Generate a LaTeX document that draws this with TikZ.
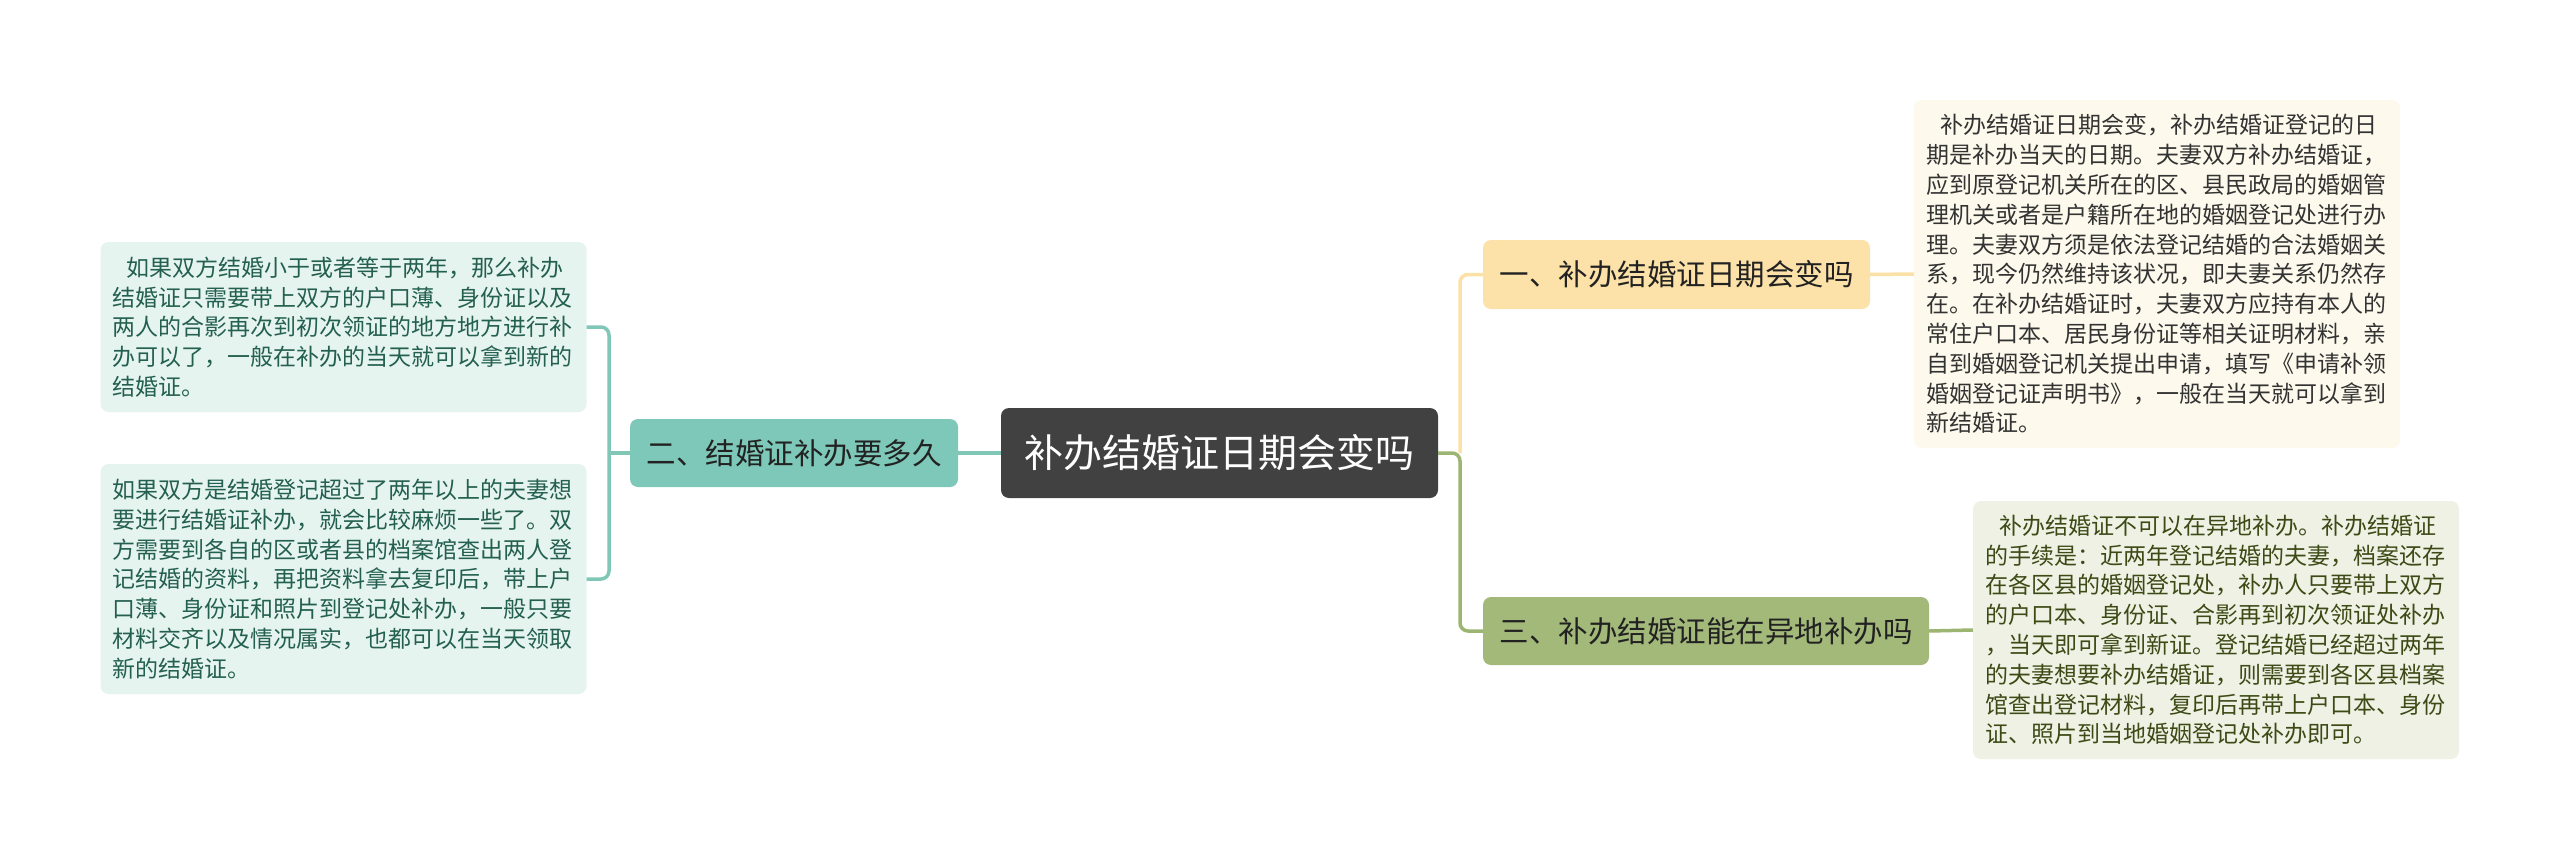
\documentclass[tikz,border=0pt]{standalone}
\usepackage{fontspec}
\setmainfont{Noto Sans CJK SC}
\definecolor{centerfill}{HTML}{414141}
\definecolor{tealfill}{HTML}{7DC8B8}
\definecolor{tealline}{HTML}{80C7B7}
\definecolor{tealleaf}{HTML}{E6F4F0}
\definecolor{tealtext}{HTML}{24604F}
\definecolor{goldfill}{HTML}{FCE2A8}
\definecolor{goldline}{HTML}{FAE2A6}
\definecolor{goldleaf}{HTML}{FDF9EC}
\definecolor{goldtext}{HTML}{333333}
\definecolor{olivefill}{HTML}{A3B97A}
\definecolor{oliveline}{HTML}{9DB572}
\definecolor{oliveleaf}{HTML}{EEF1E4}
\definecolor{olivetext}{HTML}{3D4A16}
\definecolor{branchtext}{HTML}{222222}
\tikzset{
  rootbox/.style={fill=centerfill, text=white, rounded corners=8pt, inner sep=0pt,
    minimum width=437pt, minimum height=90pt, font=\fontsize{39pt}{46pt}\selectfont},
  branchbox/.style={rounded corners=8pt, inner sep=0pt, minimum height=68pt,
    text=branchtext, font=\fontsize{29.5pt}{35pt}\selectfont},
  leafbox/.style={rounded corners=8pt, inner xsep=12pt, inner ysep=0pt, text width=462pt,
    minimum width=486pt, align=left, font=\fontsize{23pt}{29.8pt}\selectfont},
  conn/.style={line width=3.5pt, rounded corners=8pt},
}
\begin{document}
\begin{tikzpicture}[x=1pt, y=-1pt]
\useasboundingbox[fill=white] (0,0) rectangle (2560,862);

% root
\node[rootbox] (root) at (1219.5,453) {补办结婚证日期会变吗};

% branches
\node[branchbox, fill=tealfill, minimum width=328pt] (lb) at (794,453) {二、结婚证补办要多久};
\node[branchbox, fill=goldfill, minimum width=387pt, minimum height=69pt] (rb1) at (1676.5,274.5) {一、补办结婚证日期会变吗};
\node[branchbox, fill=olivefill, minimum width=446pt] (rb2) at (1706,631) {三、补办结婚证能在异地补办吗};

% leaves
\node[leafbox, fill=tealleaf, text=tealtext, minimum height=170pt] (l1) at (343.5,327) {%
\hspace*{14pt}如果双方结婚小于或者等于两年，那么补办\\
结婚证只需要带上双方的户口薄、身份证以及\\
两人的合影再次到初次领证的地方地方进行补\\
办可以了，一般在补办的当天就可以拿到新的\\
结婚证。};

\node[leafbox, fill=tealleaf, text=tealtext, minimum height=230pt] (l2) at (343.5,579) {%
如果双方是结婚登记超过了两年以上的夫妻想\\
要进行结婚证补办，就会比较麻烦一些了。双\\
方需要到各自的区或者县的档案馆查出两人登\\
记结婚的资料，再把资料拿去复印后，带上户\\
口薄、身份证和照片到登记处补办，一般只要\\
材料交齐以及情况属实，也都可以在当天领取\\
新的结婚证。};

\node[leafbox, fill=goldleaf, text=goldtext, minimum height=348pt] (r1) at (2157,274) {%
\hspace*{14pt}补办结婚证日期会变，补办结婚证登记的日\\
期是补办当天的日期。夫妻双方补办结婚证，\\
应到原登记机关所在的区、县民政局的婚姻管\\
理机关或者是户籍所在地的婚姻登记处进行办\\
理。夫妻双方须是依法登记结婚的合法婚姻关\\
系，现今仍然维持该状况，即夫妻关系仍然存\\
在。在补办结婚证时，夫妻双方应持有本人的\\
常住户口本、居民身份证等相关证明材料，亲\\
自到婚姻登记机关提出申请，填写《申请补领\\
婚姻登记证声明书》，一般在当天就可以拿到\\
新结婚证。};

\node[leafbox, fill=oliveleaf, text=olivetext, minimum height=258pt] (r2) at (2216,630) {%
\hspace*{14pt}补办结婚证不可以在异地补办。补办结婚证\\
的手续是：近两年登记结婚的夫妻，档案还存\\
在各区县的婚姻登记处，补办人只要带上双方\\
的户口本、身份证、合影再到初次领证处补办\\
，当天即可拿到新证。登记结婚已经超过两年\\
的夫妻想要补办结婚证，则需要到各区县档案\\
馆查出登记材料，复印后再带上户口本、身份\\
证、照片到当地婚姻登记处补办即可。};

% junctions
\coordinate (lj) at (609,453);
\coordinate (rj) at (1460,453);

% connectors left
\draw[conn, tealline] (root.west) -- (lb.east);
\draw[conn, tealline] (lb.west) -- (lj);
\draw[conn, tealline] (l1.east) -| (lj) |- (l2.east);

% connectors right
\draw[conn, goldline] (rj) |- (rb1.west);
\draw[conn, oliveline] (root.east) -- (rj) |- (rb2.west);
\draw[conn, goldline] (rb1.east) -- (r1.west);
\draw[conn, oliveline] (rb2.east) -- (r2.west);
\end{tikzpicture}
\end{document}
